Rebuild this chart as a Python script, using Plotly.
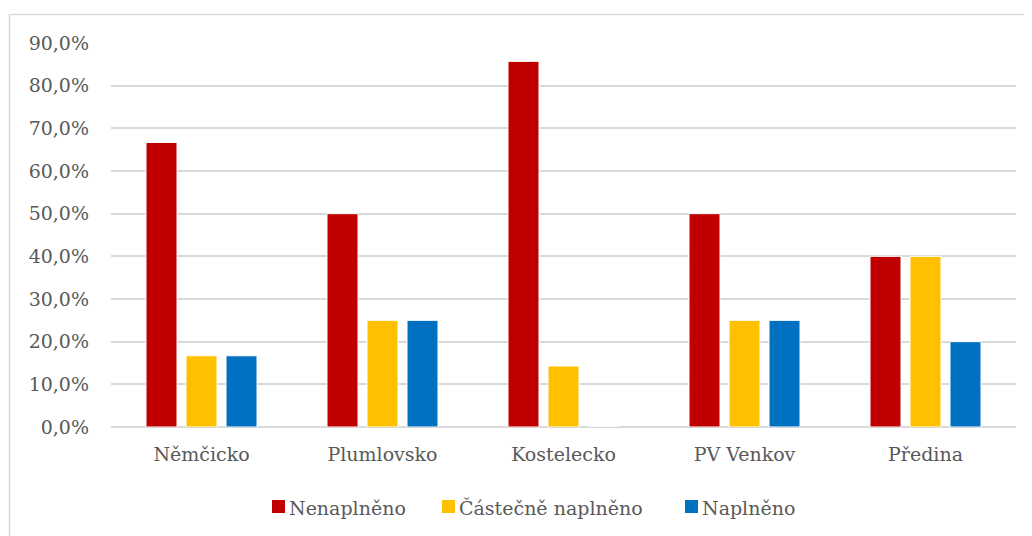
import plotly.graph_objects as go

categories = ["Němčicko", "Plumlovsko", "Kostelecko", "PV Venkov", "Předina"]
series_names = ["Nenaplněno", "Částečně naplněno", "Naplněno"]
nenaplneno = [0.667, 0.50, 0.857, 0.50, 0.40]
castecne = [0.167, 0.25, 0.143, 0.25, 0.40]
naplneno = [0.167, 0.25, 0.0, 0.25, 0.20]
colors = ["#C00000", "#FFC000", "#0070C0"]
tick_vals = [0, 0.1, 0.2, 0.3, 0.4, 0.5, 0.6, 0.7, 0.8, 0.9]
tick_text = ["0,0%", "10,0%", "20,0%", "30,0%", "40,0%", "50,0%", "60,0%", "70,0%", "80,0%", "90,0%"]

FONT = "DejaVu Serif"
FS = 19
GREY = "#595959"
W, H = 1032, 536
ML, MR, MT, MB = 103, 24, 35, 117

fig = go.Figure()
for name, vals, col in zip(series_names, [nenaplneno, castecne, naplneno], colors):
    fig.add_trace(go.Bar(x=categories, y=vals, name=name, showlegend=False,
                         marker=dict(color=col, line=dict(color="white", width=1))))

pw = W - ML - MR
ph = H - MT - MB
def px_x(px):
    return (px - ML) / pw
def px_y(py):
    return (H - MB - py) / ph

# manual legend (square + label), positions in figure pixels
legend_sq_x = [264, 434, 677]
sq = 13
leg_cy = 498.5
shapes = [dict(type="rect", xref="paper", yref="paper",
               x0=px_x(1.5), x1=px_x(1045),
               y0=px_y(550), y1=px_y(6.5),
               line=dict(color="#d9d9d9", width=1.5), layer="below")]
annotations = []
for name, col, sx in zip(series_names, colors, legend_sq_x):
    shapes.append(dict(type="rect", xref="paper", yref="paper",
                       x0=px_x(sx), x1=px_x(sx + sq),
                       y0=px_y(leg_cy + sq / 2), y1=px_y(leg_cy - sq / 2),
                       fillcolor=col, line=dict(width=0)))
    annotations.append(dict(xref="paper", yref="paper", x=px_x(sx + sq + 2),
                            y=px_y(leg_cy + 1), xanchor="left", yanchor="middle",
                            text=name, showarrow=False,
                            font=dict(family=FONT, size=FS, color=GREY)))

fig.update_layout(
    width=W, height=H,
    margin=dict(l=ML, r=MR, t=MT, b=MB, autoexpand=False),
    paper_bgcolor="white", plot_bgcolor="white",
    barmode="group", bargap=0.337, bargroupgap=0.225,
    font=dict(family=FONT, size=FS, color=GREY),
    showlegend=False,
    xaxis=dict(showgrid=False, showline=False, ticks="", ticklabelstandoff=14,
               tickfont=dict(size=FS, color=GREY)),
    yaxis=dict(range=[0, 0.9], tickvals=tick_vals, ticktext=tick_text,
               showgrid=True, gridcolor="#d9d9d9", gridwidth=1.5,
               zeroline=True, zerolinecolor="#d9d9d9", zerolinewidth=1.5,
               showline=False, ticks="", ticklabelstandoff=21,
               tickfont=dict(size=FS, color=GREY)),
    shapes=shapes,
    annotations=annotations,
)
fig.write_html("out.html")
